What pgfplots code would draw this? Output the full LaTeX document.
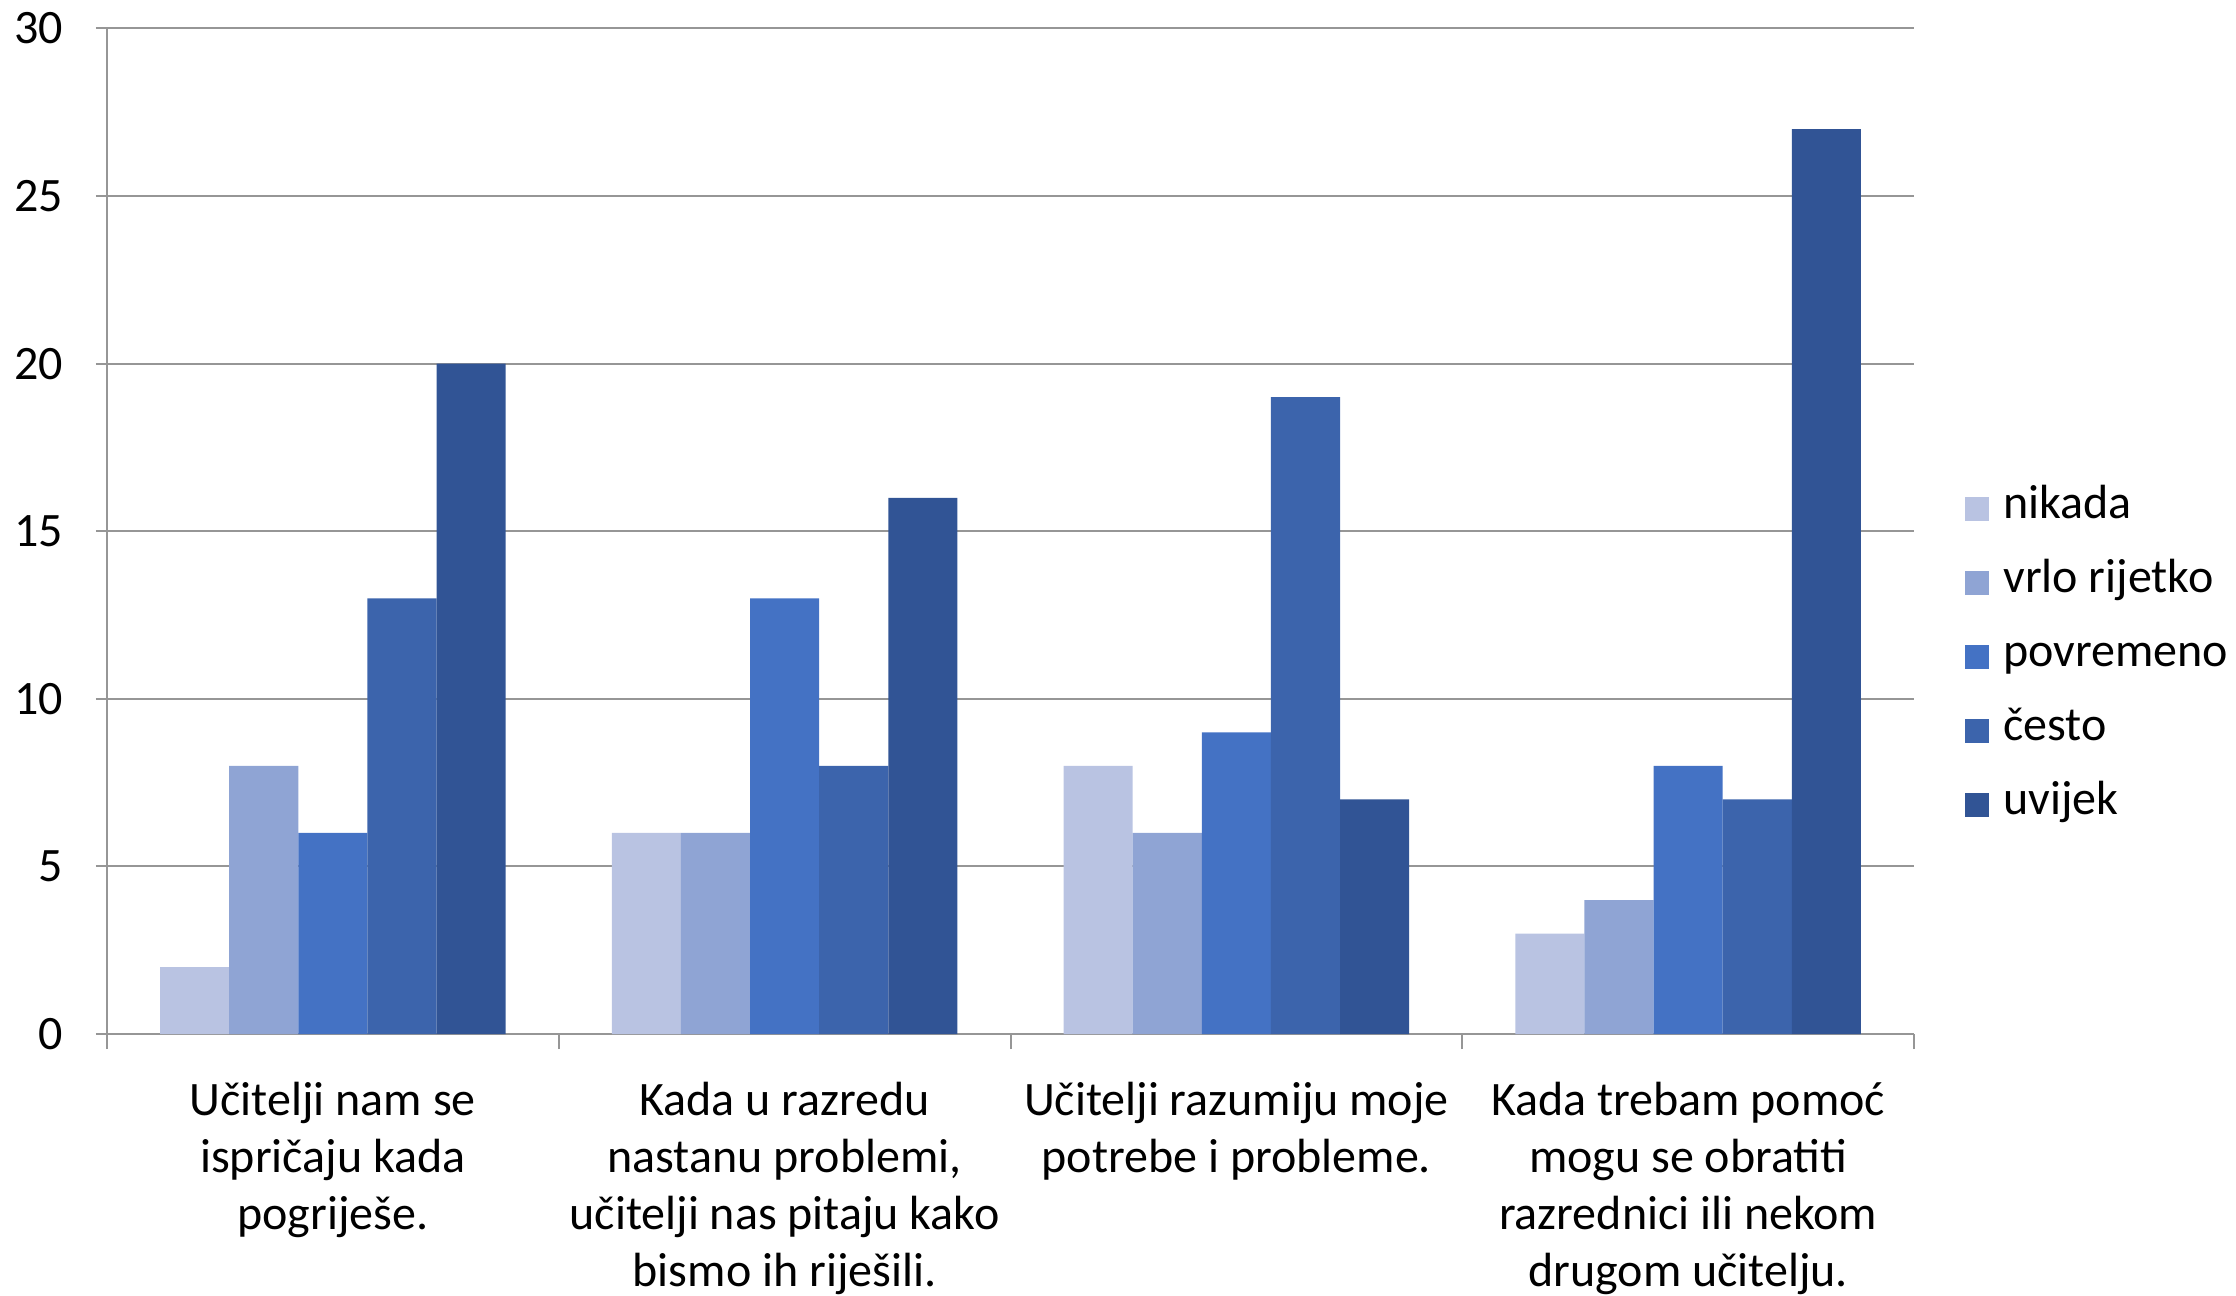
\documentclass[border=0pt]{standalone}
\usepackage{fontspec}
\setmainfont{Carlito}
\usepackage{pgfplots}
\pgfplotsset{compat=1.18}
\definecolor{nik}{HTML}{B9C3E2}
\definecolor{vrl}{HTML}{8FA4D4}
\definecolor{pov}{HTML}{4472C4}
\definecolor{ces}{HTML}{3C64AC}
\definecolor{uvi}{HTML}{315495}
\definecolor{gridgray}{RGB}{150,150,150}
\begin{document}
\fontsize{12}{14.5}\selectfont
\begin{tikzpicture}
\begin{axis}[
    scale only axis,
    width=451.75pt, height=251.4pt,
    xmin=-0.5, xmax=3.5, ymin=0, ymax=30,
    ytick={0,5,10,15,20,25,30},
    /pgf/number format/assume math mode=true,
    axis lines=left,
    axis line style={-, draw=gridgray, line width=0.5pt},
    ymajorgrids,
    grid style={draw=gridgray, line width=0.5pt},
    tick align=outside,
    tick style={draw=gridgray, line width=0.5pt},
    major tick length=2.75pt,
    xtick={0,1,2,3},
    major x tick style={draw=none},
    xticklabels={
        {Učitelji nam se\\ispričaju kada\\pogriješe.},
        {Kada u razredu\\nastanu problemi,\\učitelji nas pitaju kako\\bismo ih riješili.},
        {Učitelji razumiju moje\\potrebe i probleme.},
        {Kada trebam pomoć\\mogu se obratiti\\razrednici ili nekom\\drugom učitelju.}},
    x tick label style={align=center, font=\fontsize{12}{14.3}\selectfont, yshift=-5pt},
    y tick label style={font=\fontsize{12}{14.5}\selectfont, xshift=-4pt},
    extra x ticks={-0.5,0.5,1.5,2.5,3.5},
    extra x tick labels={},
    extra x tick style={major x tick style={draw=gridgray, line width=0.5pt}, major tick length=3.75pt},
    ybar=0pt,
    bar width=0.153,
    legend style={draw=none, at={(1.028,0.3754)}, anchor=west, inner sep=0pt,
        row sep=2.5pt, font=\fontsize{12}{14.5}\selectfont,
        nodes={text height=8.5pt, text depth=3.5pt}},
    legend cell align=left,
    legend image code/.code={\fill[#1] (0pt,-3pt) rectangle (6pt,3pt); \path (7.5pt,0pt);},
]
\addplot[fill=nik, draw=none] coordinates {(0,2) (1,6) (2,8) (3,3)};
\addlegendentry{nikada}
\addplot[fill=vrl, draw=none] coordinates {(0,8) (1,6) (2,6) (3,4)};
\addlegendentry{vrlo rijetko}
\addplot[fill=pov, draw=none] coordinates {(0,6) (1,13) (2,9) (3,8)};
\addlegendentry{povremeno}
\addplot[fill=ces, draw=none] coordinates {(0,13) (1,8) (2,19) (3,7)};
\addlegendentry{često}
\addplot[fill=uvi, draw=none] coordinates {(0,20) (1,16) (2,7) (3,27)};
\addlegendentry{uvijek}
\end{axis}
\pgfresetboundingbox
\path ([xshift=-26.75pt,yshift=-65.25pt]current axis.south west) rectangle ([xshift=80.5pt,yshift=7.125pt]current axis.north east);
\end{tikzpicture}
\end{document}
